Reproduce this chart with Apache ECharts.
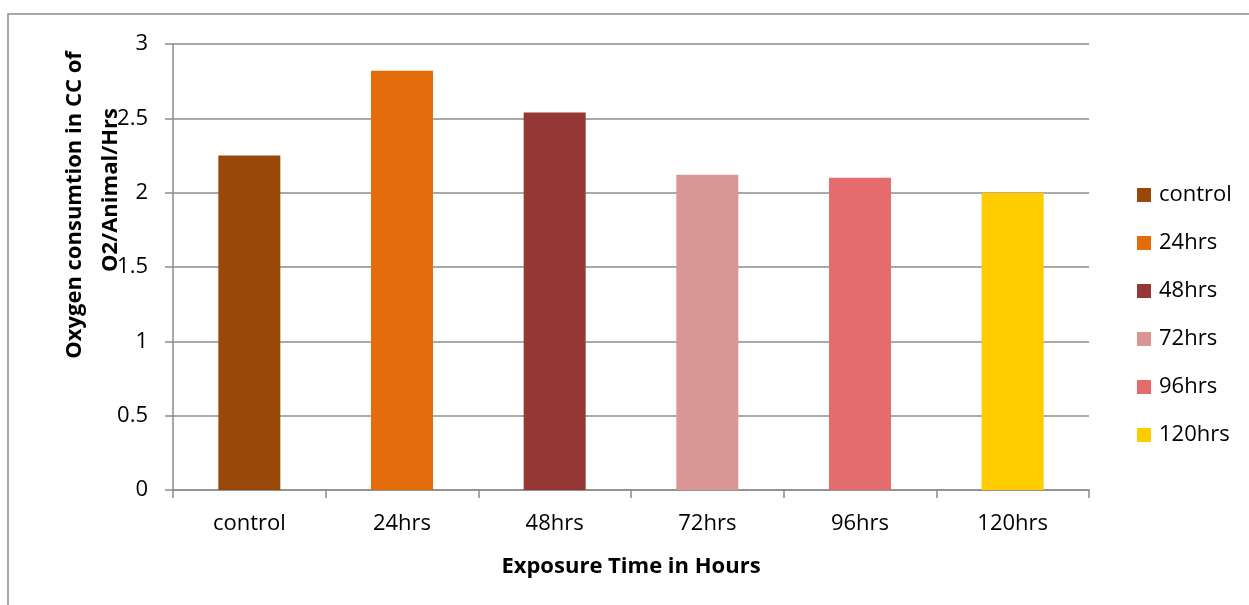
<!DOCTYPE html>
<html>
<head>
<meta charset="utf-8">
<script src="https://cdn.jsdelivr.net/npm/echarts@6/dist/echarts.min.js"></script>
<style>
  html, body { margin: 0; padding: 0; background: #fff; }
  #chart { width: 1249px; height: 605px; }
</style>
</head>
<body>
<div id="chart"></div>
<script>
// Oxygen consumption per exposure period
const categories = ['control', '24hrs', '48hrs', '72hrs', '96hrs', '120hrs'];
const values = [2.25, 2.82, 2.54, 2.12, 2.10, 2.00];
const colors = ['#984807', '#E46C0A', '#953735', '#D99694', '#E46C6C', '#FFCC00'];
const yTicks = { min: 0, max: 3, interval: 0.5 };

const FONT = '"Open Sans", "Noto Sans", sans-serif';
const GRAY = '#8c8c8c';
const FS = 22;

// one series per period so each gets its own legend entry; bars overlap in place
const series = categories.map((name, i) => ({
  name: name,
  type: 'bar',
  barWidth: 62,
  barGap: '-100%',
  itemStyle: { color: colors[i] },
  data: categories.map((c, j) => (j === i ? values[i] : null))
}));

const chart = echarts.init(document.getElementById('chart'));
chart.setOption({
  animation: false,
  backgroundColor: '#fff',
  textStyle: { fontFamily: FONT },
  grid: { left: 173, right: 160, top: 44, bottom: 115 },
  legend: {
    orient: 'vertical',
    left: 1132,
    top: 179,
    itemWidth: 14,
    itemHeight: 14,
    itemGap: 26,
    icon: 'rect',
    textStyle: { fontSize: FS, color: '#000', fontFamily: FONT, padding: [0, 0, 0, 3] },
    data: categories
  },
  xAxis: {
    type: 'category',
    data: categories,
    boundaryGap: true,
    axisLine: { lineStyle: { color: GRAY, width: 1.5 } },
    axisTick: { show: true, length: 8, lineStyle: { color: GRAY, width: 1.5 } },
    axisLabel: { fontSize: FS, color: '#000', margin: 23, fontFamily: FONT },
    name: 'Exposure Time in Hours',
    nameLocation: 'middle',
    nameGap: 66,
    nameTextStyle: { fontSize: FS, fontWeight: 'bold', color: '#000', fontFamily: FONT }
  },
  yAxis: {
    type: 'value',
    min: yTicks.min,
    max: yTicks.max,
    interval: yTicks.interval,
    axisLine: { show: true, lineStyle: { color: GRAY, width: 1.5 } },
    axisTick: { show: true, length: 8, lineStyle: { color: GRAY, width: 1.5 } },
    axisLabel: { fontSize: FS, color: '#000', margin: 25, fontFamily: FONT },
    splitLine: { show: true, lineStyle: { color: GRAY, width: 1.5 } }
  },
  graphic: [
    {
      type: 'rect',
      silent: true,
      shape: { x: 8, y: 14, width: 1400, height: 800 },
      style: { fill: 'none', stroke: GRAY, lineWidth: 1.5 }
    },
    {
      type: 'text',
      x: 75, y: 205,
      rotation: Math.PI / 2,
      style: {
        text: 'Oxygen consumtion in CC of',
        font: 'bold ' + FS + 'px ' + FONT,
        fill: '#000',
        align: 'center',
        verticalAlign: 'middle'
      }
    },
    {
      type: 'text',
      x: 111, y: 190,
      rotation: Math.PI / 2,
      style: {
        text: 'O2/Animal/Hrs',
        font: 'bold ' + FS + 'px ' + FONT,
        fill: '#000',
        align: 'center',
        verticalAlign: 'middle'
      }
    }
  ],
  series: series
});
</script>
</body>
</html>
